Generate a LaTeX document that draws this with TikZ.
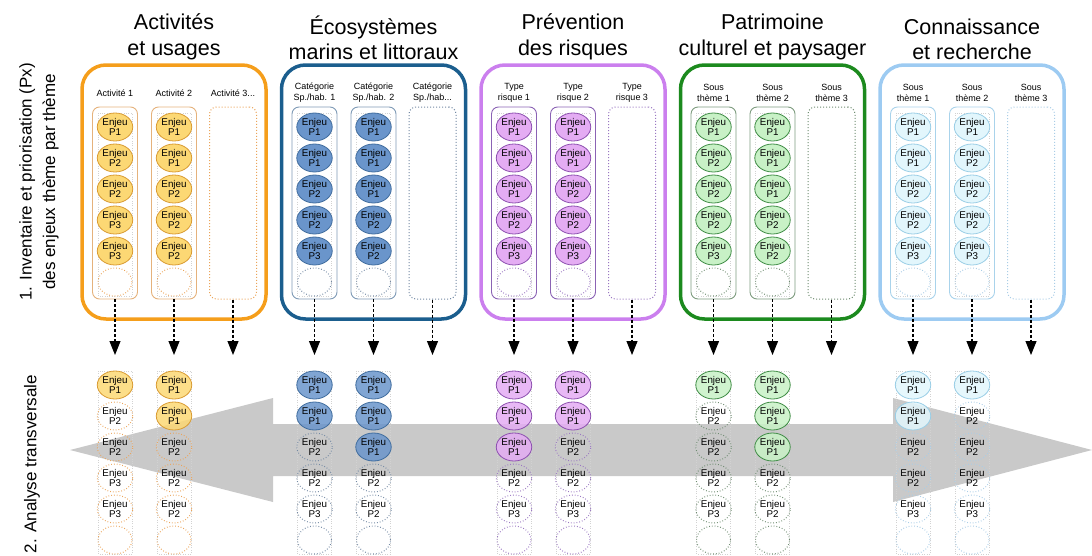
\documentclass[tikz,border=0pt]{standalone}
\usepackage{fontspec}
\setmainfont{Liberation Sans}
\usepackage{tikz}
\usetikzlibrary{positioning}
\usetikzlibrary{arrows.meta}
\usetikzlibrary{shapes}

\definecolor{orngB}{HTML}{F59E1B}
\definecolor{orngC}{HTML}{E5B27C}
\definecolor{orngF}{HTML}{FCD874}
\definecolor{orngE}{HTML}{D99B32}
\definecolor{orngD}{HTML}{EBA45A}
\definecolor{bluB}{HTML}{1B5E8E}
\definecolor{bluC}{HTML}{7F9AB6}
\definecolor{bluF}{HTML}{6A95CB}
\definecolor{bluE}{HTML}{3F6C9E}
\definecolor{bluD}{HTML}{7389A3}
\definecolor{prpB}{HTML}{CB7FEE}
\definecolor{prpC}{HTML}{8B63B4}
\definecolor{prpF}{HTML}{E4ACF3}
\definecolor{prpE}{HTML}{8D50B0}
\definecolor{prpD}{HTML}{9A77C2}
\definecolor{grnB}{HTML}{1C8A1E}
\definecolor{grnC}{HTML}{7E9C7F}
\definecolor{grnF}{HTML}{C8F1C6}
\definecolor{grnE}{HTML}{3F8C45}
\definecolor{grnD}{HTML}{6E8C70}
\definecolor{cynB}{HTML}{9DCBF2}
\definecolor{cynC}{HTML}{A9D3EB}
\definecolor{cynF}{HTML}{E2F6FC}
\definecolor{cynE}{HTML}{9ACEE6}
\definecolor{cynD}{HTML}{AACDE6}
\definecolor{flecheG}{HTML}{C9C9C9}

\tikzset{grp box/.style={rounded corners=24pt,line width=3.5pt,minimum width=184pt,minimum height=254pt,inner sep=0pt},
	col box/.style={rounded corners=7pt,line width=0.9pt,minimum width=45pt,minimum height=192pt,inner sep=0pt},
	empty box/.style={rounded corners=7pt,dotted,line width=1pt,minimum width=47pt,minimum height=192pt,inner sep=0pt},
	enjeu node/.style={ellipse,line width=0.8pt,minimum width=34pt,minimum height=28pt,inner sep=0pt,align=center,font=\fontsize{9.8}{10.5}\selectfont},
	vide node/.style={enjeu node,dotted,line width=1pt},
	guide/.style={draw=gray!35,dotted,line width=0.4pt},
	col label/.style={align=center,font=\fontsize{9}{11}\selectfont},
	theme title/.style={align=center,font=\fontsize{21.5}{25.5}\selectfont},
	side label/.style={align=center,rotate=90,font=\fontsize{17}{23.5}\selectfont},
	dash arrow/.style={densely dashed,line width=1.1pt,-{Triangle[width=11pt,length=14pt]}},}

\begin{document}
\begin{tikzpicture}[x=1pt, y=-1pt]
	\useasboundingbox (0,0) rectangle (1092,555);

	% axe transversal
	\fill[flecheG] (70,450) -- (273,398) -- (273,424) -- (893,424) -- (893,398) -- (1092,450)
		-- (893,502) -- (893,476) -- (273,476) -- (273,502) -- cycle;

	\node[side label] (inv) at (39,182) {1. Inventaire et priorisation (Px)\\des enjeux thème par thème};
	\node[side label] (trans) at (32,464) {2. Analyse transversale};

	\foreach \g/\clr/\ttl/\la/\lb/\lc/\lst in {
		0/orng/{Activités\\et usages}/{Activité 1}/{Activité 2}/{Activité 3...}/{1/1,2/1,2/2,3/2,3/2},
		1/blu/{Écosystèmes\\marins et littoraux}/{Catégorie\\Sp./hab. 1}/{Catégorie\\Sp./hab. 2}/{Catégorie\\Sp./hab...}/{1/1,1/1,2/1,2/2,3/2},
		2/prp/{Prévention\\des risques}/{Type\\risque 1}/{Type\\risque 2}/{Type\\risque 3}/{1/1,1/1,1/2,2/2,3/3},
		3/grn/{Patrimoine\\culturel et paysager}/{Sous\\thème 1}/{Sous\\thème 2}/{Sous\\thème 3}/{1/1,2/1,2/1,2/2,3/2},
		4/cyn/{Connaissance\\et recherche}/{Sous\\thème 1}/{Sous\\thème 2}/{Sous\\thème 3}/{1/1,1/2,2/2,2/2,3/3}}
	{
		\pgfmathsetmacro\gx{115+199.5*\g}
		\node[grp box, draw=\clr B] (grp\g) at (\gx+59,192) {};
		\node[theme title] (ttl\g) [above=0pt of grp\g] {\ttl};

		\node[col label] (la\g) at (\gx,93) {\la};
		\node[col label] (lb\g) at (\gx+59,93) {\lb};
		\node[col label] (lc\g) at (\gx+118,93) {\lc};

		\node[col box, draw=\clr C] (ca\g) at (\gx,203) {};
		\node[col box, draw=\clr C] (cb\g) at (\gx+59,203) {};
		\node[empty box, draw=\clr D] (cc\g) at (\gx+118,203) {};

		\draw[guide] (\gx-17,113) rectangle (\gx+17,296);
		\draw[guide] (\gx+42,113) rectangle (\gx+76,296);
		\draw[guide] (\gx-17,371) rectangle (\gx+17,554);
		\draw[guide] (\gx+42,371) rectangle (\gx+76,554);

		\foreach \p/\q [count=\r] in \lst {
			\pgfmathsetmacro\ty{127+31*(\r-1)}
			\pgfmathsetmacro\by{385+31*(\r-1)}
			\node[enjeu node, fill=\clr F, draw=\clr E] (ta\g-\r) at (\gx,\ty) {Enjeu\\P\p};
			\node[enjeu node, fill=\clr F, draw=\clr E] (tb\g-\r) at (\gx+59,\ty) {Enjeu\\P\q};
			\ifnum\p=1 \node[enjeu node, fill=\clr F, draw=\clr E, fill opacity=.85, text opacity=1] (ba\g-\r) at (\gx,\by) {Enjeu\\P\p};
			\else \node[vide node, draw=\clr D] (ba\g-\r) at (\gx,\by) {Enjeu\\P\p}; \fi
			\ifnum\q=1 \node[enjeu node, fill=\clr F, draw=\clr E, fill opacity=.85, text opacity=1] (bb\g-\r) at (\gx+59,\by) {Enjeu\\P\q};
			\else \node[vide node, draw=\clr D] (bb\g-\r) at (\gx+59,\by) {Enjeu\\P\q}; \fi
		}
		\node[vide node, draw=\clr D] (ta\g-6) at (\gx,282) {};
		\node[vide node, draw=\clr D] (tb\g-6) at (\gx+59,282) {};
		\node[vide node, draw=\clr D] (ba\g-6) at (\gx,540) {};
		\node[vide node, draw=\clr D] (bb\g-6) at (\gx+59,540) {};

		\coordinate (fa\g) at (\gx,355);
		\coordinate (fb\g) at (\gx+59,355);
		\coordinate (fc\g) at (\gx+118,355);
		\path (ca\g.south) edge[dash arrow] (fa\g)
			(cb\g.south) edge[dash arrow] (fb\g)
			(cc\g.south) edge[dash arrow] (fc\g);
	}
\end{tikzpicture}
\end{document}
